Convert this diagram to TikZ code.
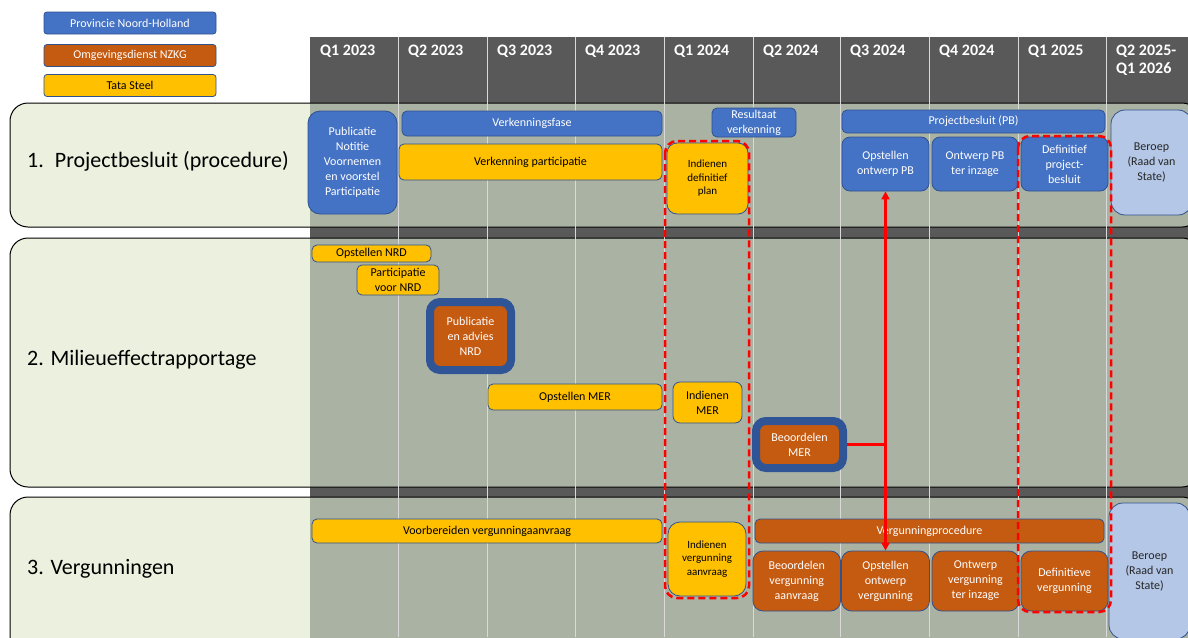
\documentclass[tikz,border=0pt]{standalone}
\usepackage{fontspec}
\setmainfont{Carlito}
\usetikzlibrary{arrows.meta}

\definecolor{pnh}{RGB}{68,114,196}
\definecolor{odn}{RGB}{197,90,17}
\definecolor{tata}{RGB}{255,192,0}
\definecolor{rand}{RGB}{47,82,143}
\definecolor{navy}{RGB}{47,85,151}
\definecolor{beroepkl}{RGB}{180,199,231}
\definecolor{kop}{RGB}{89,89,89}
\definecolor{kolom}{RGB}{170,178,163}
\definecolor{baan}{RGB}{235,241,222}

\tikzset{
  box/.style={draw=rand, line width=.8pt, rounded corners=5pt, align=center,
    inner sep=0pt, font=\fontsize{12}{15}\selectfont},
  klein/.style={font=\fontsize{11}{13.5}\selectfont},
  sz/.style 2 args={minimum width=#1pt, minimum height=#2pt},
  hl/.style={draw=navy, line width=8pt, rounded corners=10pt},
  kopnode/.style={anchor=north west, inner sep=0pt, text=white, align=left,
    font=\bfseries\fontsize{16}{17.5}\selectfont},
  baanlabel/.style={anchor=base west, inner sep=0pt, font=\fontsize{22}{26}\selectfont},
  stippel/.style={draw=red, line width=2.5pt, dash pattern=on 7pt off 4pt, rounded corners=12pt},
  rood/.style={draw=red, line width=2.2pt},
}

\begin{document}
\begin{tikzpicture}[x=1pt,y=-1pt]

  \useasboundingbox (0,0) rectangle (1188,637);
  \clip (0,0) rectangle (1188,637);

  % kolommen
  \fill[kop] (310,37) rectangle (1188,637);

  % banen
  \foreach \top/\bot in {103/227, 238/487, 497/660} {
    \fill[baan, rounded corners=18pt] (10,\top) rectangle (1200,\bot);
    \begin{scope}
      \clip[rounded corners=18pt] (10,\top) rectangle (1200,\bot);
      \fill[kolom] (310,\top) rectangle (1200,\bot);
    \end{scope}
    \draw[line width=1pt, rounded corners=18pt] (10,\top) rectangle (1200,\bot);
  }

  \foreach \x in {398,487,575,664,753,840,929,1018,1106}
    \draw[white!85!black, line width=1pt] (\x,37) -- (\x,637);

  % kwartalen
  \foreach \x/\q [count=\i] in {310/Q1 2023, 398/Q2 2023, 487/Q3 2023, 575/Q4 2023,
      664/Q1 2024, 753/Q2 2024, 840/Q3 2024, 929/Q4 2024, 1018/Q1 2025,
      1106/{Q2 2025-\\Q1 2026}}
    \node[kopnode] (q\i) at (\x+10,45) {\q};

  \node[baanlabel] (b1) at (27,167) {1.\enspace Projectbesluit (procedure)};
  \node[baanlabel] (b2) at (27,365) {2. Milieueffectrapportage};
  \node[baanlabel] (b3) at (27,574) {3. Vergunningen};

  % legenda
  \begin{scope}[every node/.style={box, rounded corners=3pt, sz={172}{22}}]
    \node[fill=pnh, text=white] (lg1) at (130,23) {Provincie Noord-Holland};
    \node[fill=odn, text=white] (lg2) at (130,55.5) {Omgevingsdienst NZKG};
    \node[fill=tata] (lg3) at (130,85.5) {Tata Steel};
  \end{scope}

  % provincie
  \begin{scope}[every node/.style={box, fill=pnh, text=white}]
    \node[sz={89}{103}, rounded corners=12pt] (pub) at (352.5,162.5)
      {Publicatie\\Notitie\\Voornemen\\en voorstel\\Participatie};
    \node[sz={260}{25}] (vkf) at (532,123.5) {Verkenningsfase};
    \node[sz={84}{29}] (rv) at (754,122.5) {Resultaat\\verkenning};
    \node[sz={263}{23}] (pb) at (973.5,121.5) {Projectbesluit (PB)};
    \node[sz={87}{54}, rounded corners=8pt] (opspb) at (885.5,164) {Opstellen\\ontwerp PB};
    \node[sz={86}{54}, rounded corners=8pt] (opbi) at (975,164) {Ontwerp PB\\ter inzage};
    \node[sz={87}{54}, rounded corners=8pt] (dpb) at (1064.5,164) {Definitief\\project-\\besluit};
  \end{scope}

  \begin{scope}[every node/.style={box, fill=beroepkl, text=black!85, rounded corners=14pt}]
    \node[sz={81}{105}] (ber1) at (1151.5,162.5) {Beroep\\(Raad van\\State)};
    \node[sz={81}{136}] (ber3) at (1149.5,571) {Beroep\\(Raad van\\State)};
  \end{scope}

  % tata steel
  \begin{scope}[every node/.style={box, fill=tata, text=black}]
    \node[sz={263}{36}] (vkp) at (530.5,162) {Verkenning participatie};
    \node[sz={81}{71}, rounded corners=10pt, klein] (idp) at (707.5,178.5) {Indienen\\definitief\\plan};
    \node[sz={119}{17}] (onrd) at (371.5,253.5) {Opstellen NRD};
    \node[sz={82}{30}] (pnrd) at (398,280) {Participatie\\voor NRD};
    \node[sz={174}{26}] (omer) at (575,397) {Opstellen MER};
    \node[sz={69}{41}, rounded corners=7pt] (imer) at (707.5,402.5) {Indienen\\MER};
    \node[sz={350}{24}] (vva) at (487,531) {Voorbereiden vergunningaanvraag};
    \node[sz={78}{74}, rounded corners=12pt, klein] (iva) at (707,559) {Indienen\\vergunning\\aanvraag};
  \end{scope}

  % omgevingsdienst
  \begin{scope}[every node/.style={box, fill=odn, text=white}]
    \node[sz={81}{68}, hl] (panrd) at (470.5,336) {Publicatie\\en advies\\NRD};
    \node[sz={87}{47}, hl] (bmer) at (799.5,444.5) {Beoordelen\\MER};
    \node[sz={349}{24}] (vgp) at (929.5,531) {Vergunningprocedure};
    \node[sz={87.5}{60}, rounded corners=10pt] (bva) at (796.75,581) {Beoordelen\\vergunning\\aanvraag};
    \node[sz={88}{60}, rounded corners=10pt] (opvg) at (885.5,581) {Opstellen\\ontwerp\\vergunning};
    \node[sz={87}{60}, rounded corners=10pt] (ovti) at (975.5,581) {Ontwerp\\vergunning\\ter inzage};
    \node[sz={87}{60}, rounded corners=10pt] (dvg) at (1064.5,581) {Definitieve\\vergunning};
  \end{scope}

  % markering
  \draw[stippel] (665,141) rectangle (749,598);
  \draw[stippel] (1018,136) rectangle (1111,612);

  \coordinate (knik) at (opspb.south |- bmer.east);
  \draw[rood] (bmer.east) -- (knik);
  \draw[rood, -{Triangle[length=8pt,width=8pt]}] (knik) -- (opspb.south);
  \draw[rood, -{Triangle[length=8pt,width=8pt]}] (knik) -- (opvg.north);

\end{tikzpicture}
\end{document}
